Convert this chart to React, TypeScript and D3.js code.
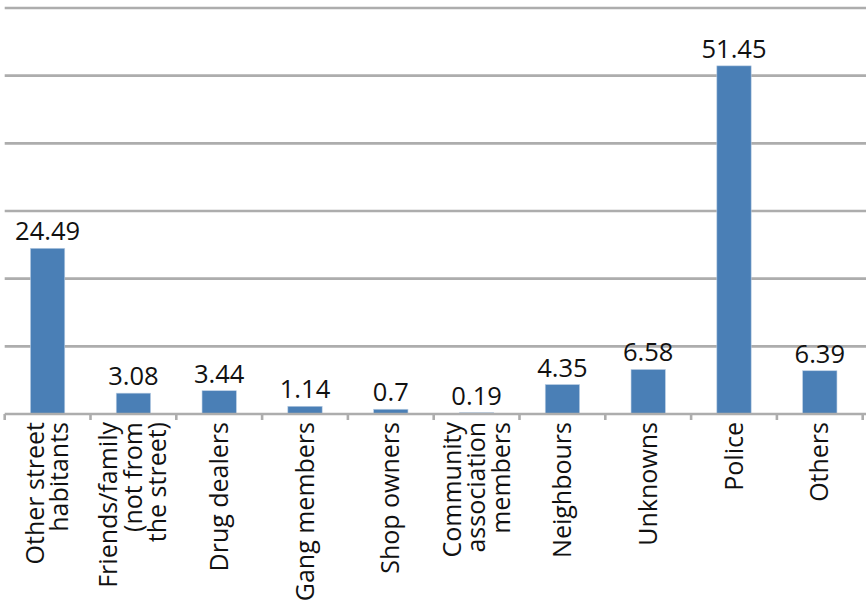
import React from "react";
import * as d3 from "d3";

const categories: string[][] = [
  ["Other street", "habitants"],
  ["Friends/family", "(not from", "the street)"],
  ["Drug dealers"],
  ["Gang members"],
  ["Shop owners"],
  ["Community", "association", "members"],
  ["Neighbours"],
  ["Unknowns"],
  ["Police"],
  ["Others"],
];
const values: number[] = [24.49, 3.08, 3.44, 1.14, 0.7, 0.19, 4.35, 6.58, 51.45, 6.39];
const valueLabels: string[] = ["24.49", "3.08", "3.44", "1.14", "0.7", "0.19", "4.35", "6.58", "51.45", "6.39"];
const yTicks: number[] = [0, 10, 20, 30, 40, 50, 60];

const W = 866;
const H = 602;
const left = 4.7;
const right = 862.7;
const top = 8;
const bottom = 414;
const font = "'Open Sans', 'Noto Sans', sans-serif";

export default function App() {
  const idx = categories.map((_, i) => String(i));
  const x = d3.scaleBand<string>().domain(idx).range([left, right]).paddingInner(0).paddingOuter(0);
  const y = d3.scaleLinear().domain([0, 60]).range([bottom, top]);
  const bw = x.bandwidth() * 0.4;
  const lineH = 24.5;

  return (
    <svg
      width={W}
      height={H}
      style={{ position: "absolute", left: 0, top: 0, background: "#fff" }}
      fontFamily={font}
    >
      {yTicks.filter((t) => t > 0).map((t) => (
        <line key={t} x1={left} x2={W} y1={y(t)} y2={y(t)} stroke="#adadad" strokeWidth={2.6} />
      ))}
      {values.map((v, i) => {
        const cx = (x(String(i)) as number) + x.bandwidth() / 2;
        return (
          <g key={i}>
            <rect
              x={cx - bw / 2}
              y={y(v)}
              width={bw}
              height={bottom - y(v)}
              fill="#4a7fb6"
              stroke="#b9cde3"
              strokeWidth={0.6}
            />
            <text
              x={cx}
              y={y(v) - 8}
              textAnchor="middle"
              fontSize={25.5}
              fill="#111"
            >
              {valueLabels[i]}
            </text>
          </g>
        );
      })}
      <line x1={left} x2={W} y1={bottom} y2={bottom} stroke="#adadad" strokeWidth={2.6} />
      {d3.range(categories.length + 1).map((k) => {
        const tx = left + k * x.bandwidth();
        return <line key={k} x1={tx} x2={tx} y1={bottom} y2={bottom + 6} stroke="#adadad" strokeWidth={2.6} />;
      })}
      {categories.map((lines, i) => {
        const cx = (x(String(i)) as number) + x.bandwidth() / 2;
        const n = lines.length;
        return (
          <text
            key={i}
            transform={`translate(${cx},${422}) rotate(-90)`}
            textAnchor="end"
            fontSize={25}
            fill="#111"
          >
            {lines.map((l, j) => (
              <tspan key={j} x={0} y={(j - (n - 1) / 2) * lineH + 8.5}>
                {l}
              </tspan>
            ))}
          </text>
        );
      })}
    </svg>
  );
}
